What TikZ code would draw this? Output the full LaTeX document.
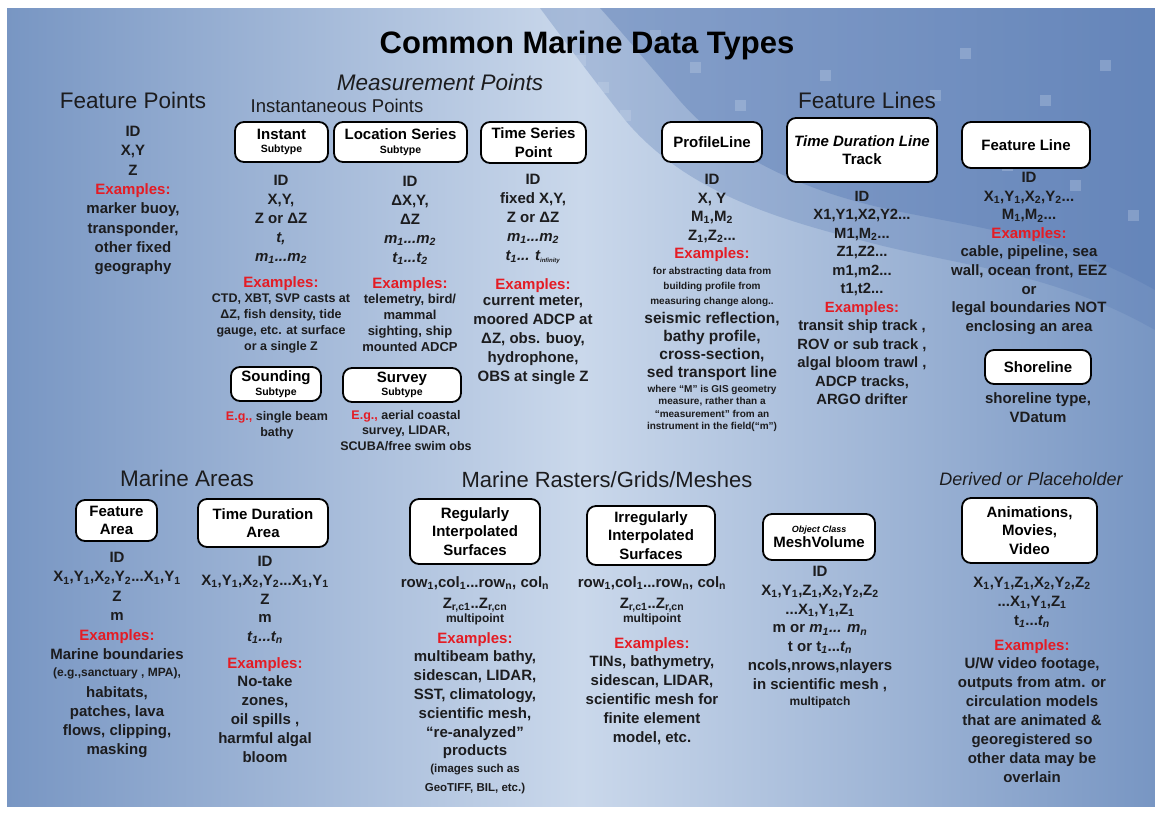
\documentclass[tikz,border=0pt]{standalone}
\usepackage{fontspec}
\setmainfont{Liberation Sans}
\usepackage{tikz}
\usetikzlibrary{positioning}
\definecolor{ink}{RGB}{28,28,30}
\definecolor{exred}{RGB}{228,28,36}
\definecolor{bgblue}{RGB}{120,150,195}
\definecolor{bglight}{RGB}{202,216,235}
\definecolor{bgdeep}{RGB}{88,122,180}
\newcommand{\sbs}[1]{\textsubscript{#1}}
\newcommand{\fsz}[2]{\fontsize{#1}{#2}\selectfont}
\newcommand{\exlbl}{\textcolor{exred}{Examples:}}
\newcommand{\eglbl}{\textcolor{exred}{E.g.,}}
\tikzset{tbox/.style = {draw, fill = white, line width = 1.8, rounded corners = 9, align = center, inner sep = 2, text = black, font = \bfseries\fsz{15}{18.5}}}
\tikzset{hdr/.style = {text = ink, font = \fsz{22.5}{24}}}
\tikzset{txt/.style = {anchor = north, inner sep = 0, align = center, text = ink, font = \bfseries\fsz{15}{19}}}
\tikzset{sml/.style = {txt, font = \bfseries\fsz{12.5}{16}}}

\begin{document}
\begin{tikzpicture}[x = 1pt, y = -1pt]
      \useasboundingbox (0, 0) rectangle (1155, 812);
      \fill[white] (0, 0) rectangle (1155, 812);
      \shade[left color = bgblue, right color = bgblue, middle color = bglight] (7, 8) rectangle (1155, 806);
      \fill[bgdeep, opacity = .3] (540, 8) -- (1155, 8) -- (1155, 330) .. controls (1050, 270) and (950, 265) .. (860, 240) .. controls (760, 215) and (680, 185) .. (625, 120) .. controls (590, 75) and (560, 35) .. (540, 8) -- cycle;
      \fill[bgdeep, opacity = .4] (600, 8) -- (1155, 8) -- (1155, 290) .. controls (1050, 230) and (950, 225) .. (870, 205) .. controls (790, 185) and (720, 150) .. (675, 95) .. controls (645, 60) and (620, 30) .. (600, 8) -- cycle;
      \foreach \px/\py in {575/55, 598/82, 650/30, 690/62, 735/100, 960/48, 1002/160, 1040/95, 1100/60, 1128/210, 900/150, 820/70, 760/40, 1070/180, 930/90, 620/110}
        \fill[bglight, opacity = .3] (\px, \py) rectangle ++(11, 11);

      \node[font = \bfseries\fsz{31}{33}] (title) at (587, 45) {Common Marine Data Types};
      \node[hdr] (fphead) at (133, 100) {Feature Points};
      \node[hdr, font = \itshape\fsz{22.5}{24}] (mphead) at (440, 82) {Measurement Points};
      \node[hdr, font = \fsz{18.5}{20}] (iphead) at (337, 106) {Instantaneous Points};
      \node[hdr] (flhead) at (867, 100) {Feature Lines};
      \node[hdr] (mahead) at (187, 478) {Marine Areas};
      \node[hdr, font = \fsz{22}{24}] (mrhead) at (607, 480) {Marine Rasters/Grids/Meshes};
      \node[hdr, font = \itshape\fsz{18}{20}] (dphead) at (1031, 479) {Derived or Placeholder};

      \node[tbox, minimum width = 93, minimum height = 40] (inst) at (281.5, 142) {Instant\\[-5pt]{\fsz{10.5}{12}Subtype}};
      \node[tbox, minimum width = 133, minimum height = 40] (locs) at (400.5, 142) {Location Series\\[-5pt]{\fsz{10.5}{12}Subtype}};
      \node[tbox, minimum width = 105, minimum height = 41] (tsp) at (533.5, 142.5) {Time Series\\Point};
      \node[tbox, minimum width = 100, minimum height = 40] (prof) at (712, 142) {ProfileLine};
      \node[tbox, minimum width = 150, minimum height = 64] (tdl) at (862, 150) {\textit{Time Duration Line}\\Track};
      \node[tbox, minimum width = 128, minimum height = 46] (fline) at (1026, 145) {Feature Line};
      \node[tbox, minimum width = 90, minimum height = 34] (sound) at (276, 384) {Sounding\\[-5pt]{\fsz{10.5}{12}Subtype}};
      \node[tbox, minimum width = 118, minimum height = 34] (survey) at (402, 385) {Survey\\[-5pt]{\fsz{10.5}{12}Subtype}};
      \node[tbox, minimum width = 106, minimum height = 34] (shore) at (1038, 367) {Shoreline};
      \node[tbox, minimum width = 81, minimum height = 41] (farea) at (116.5, 520.5) {Feature\\Area};
      \node[tbox, minimum width = 130, minimum height = 48] (tdarea) at (263, 523) {Time Duration\\Area};
      \node[tbox, minimum width = 130, minimum height = 65] (regi) at (475, 531.5) {Regularly\\Interpolated\\Surfaces};
      \node[tbox, minimum width = 128, minimum height = 59] (irri) at (651, 535.5) {Irregularly\\Interpolated\\Surfaces};
      \node[tbox, minimum width = 112, minimum height = 46] (mesh) at (819, 537) {{\fsz{9}{10}\itshape Object Class}\\[-4pt]MeshVolume};
      \node[tbox, minimum width = 135, minimum height = 65] (anim) at (1029.5, 530.5) {Animations,\\Movies,\\Video};

      \node[txt, font = \bfseries\fsz{15}{19.3}] (fptxt) at (133, 126) {ID\\X,Y\\Z\\\exlbl\\marker buoy,\\transponder,\\other fixed\\geography};

      \node[txt] (instattr) at (281, 175) {ID\\X,Y,\\Z or ΔZ\\\textit{t,}\\\textit{m\sbs{1}...m\sbs{2}}};
      \node[txt] (instex) at (281, 276) {\exlbl};
      \node[sml] (instdet) at (281, 294) {CTD, XBT, SVP casts at\\ΔZ, fish density, tide\\gauge, etc. at surface\\or a single Z};

      \node[txt] (locattr) at (410, 176) {ID\\ΔX,Y,\\ΔZ\\\textit{m\sbs{1}...m\sbs{2}}\\\textit{t\sbs{1}...t\sbs{2}}};
      \node[txt] (locex) at (410, 277) {\exlbl};
      \node[sml, font = \bfseries\fsz{13}{16}] (locdet) at (410, 294) {telemetry, bird/\\mammal\\sighting, ship\\mounted ADCP};

      \node[txt] (tsattr) at (533, 174) {ID\\fixed X,Y,\\Z or ΔZ\\\textit{m\sbs{1}...m\sbs{2}}\\\textit{t\sbs{1}... t\sbs{\fsz{6}{6}infinity}}};
      \node[txt] (tsex) at (533, 278) {\exlbl};
      \node[txt] (tsdet) at (533, 296) {current meter,\\moored ADCP at\\ΔZ, obs. buoy,\\hydrophone,\\OBS at single Z};

      \node[txt, font = \bfseries\fsz{15}{18.5}] (plattr) at (712, 174) {ID\\X, Y\\M\sbs{1},M\sbs{2}\\Z\sbs{1},Z\sbs{2}...\\\exlbl};
      \node[sml, font = \bfseries\fsz{10}{15}] (plnote) at (712, 267) {for abstracting data from\\building profile from\\measuring change along..};
      \node[txt, font = \bfseries\fsz{15.5}{18}] (pldet) at (712, 312) {seismic reflection,\\bathy profile,\\cross-section,\\sed transport line};
      \node[sml, font = \bfseries\fsz{10}{12.3}] (plfoot) at (712, 385) {where “M” is GIS geometry\\measure, rather than a\\“measurement” from an\\instrument in the field(“m”)};

      \node[txt, font = \bfseries\fsz{14.8}{18.5}] (tdltxt) at (862, 191) {ID\\X1,Y1,X2,Y2...\\M1,M\sbs{2}...\\Z1,Z2...\\m1,m2...\\t1,t2...\\\exlbl\\transit ship track ,\\ROV or sub track ,\\algal bloom trawl ,\\ADCP tracks,\\ARGO drifter};

      \node[txt, font = \bfseries\fsz{15}{18.6}] (fltxt) at (1029, 172) {ID\\X\sbs{1},Y\sbs{1},X\sbs{2},Y\sbs{2}...\\M\sbs{1},M\sbs{2}...\\\exlbl\\cable, pipeline, sea\\wall, ocean front, EEZ\\or\\legal boundaries NOT\\enclosing an area};
      \node[txt] (sltxt) at (1038, 392) {shoreline type,\\VDatum};

      \node[sml] (sndtxt) at (277, 411) {\eglbl{} single beam\\bathy};
      \node[sml, font = \bfseries\fsz{12.5}{15.5}] (svtxt) at (406, 410) {\eglbl{} aerial coastal\\survey, LIDAR,\\SCUBA/free swim obs};

      \node[txt, font = \bfseries\fsz{15}{19.4}] (faattr) at (117, 552) {ID\\X\sbs{1},Y\sbs{1},X\sbs{2},Y\sbs{2}...X\sbs{1},Y\sbs{1}\\Z\\m\\\exlbl\\Marine boundaries};
      \node[sml, font = \bfseries\fsz{12}{14}] (faeg) at (117, 668) {(e.g.,sanctuary , MPA),};
      \node[txt] (fadet) at (117, 686) {habitats,\\patches, lava\\flows, clipping,\\masking};

      \node[txt, font = \bfseries\fsz{15}{18.8}] (tdaattr) at (265, 556) {ID\\X\sbs{1},Y\sbs{1},X\sbs{2},Y\sbs{2}...X\sbs{1},Y\sbs{1}\\Z\\m\\\textit{t\sbs{1}...t\sbs{n}}};
      \node[txt, font = \bfseries\fsz{15}{18.8}] (tdadet) at (265, 657) {\exlbl\\No-take\\zones,\\oil spills ,\\harmful algal\\bloom};

      \node[txt, font = \bfseries\fsz{15}{21}] (riattr) at (475, 576) {row\sbs{1},col\sbs{1}...row\sbs{n}, col\sbs{n}\\Z\sbs{r,c1}..Z\sbs{r,cn}};
      \node[sml, font = \bfseries\fsz{12}{14}] (rimp) at (475, 614) {multipoint};
      \node[txt, font = \bfseries\fsz{15}{18.8}] (ridet) at (475, 632) {\exlbl\\multibeam bathy,\\sidescan, LIDAR,\\SST, climatology,\\scientific mesh,\\“re-analyzed”\\products};
      \node[sml, font = \bfseries\fsz{11.5}{19}] (riimg) at (475, 764) {(images such as\\GeoTIFF, BIL, etc.)};

      \node[txt, font = \bfseries\fsz{15}{21}] (iiattr) at (652, 576) {row\sbs{1},col\sbs{1}...row\sbs{n}, col\sbs{n}\\Z\sbs{r,c1}..Z\sbs{r,cn}};
      \node[sml, font = \bfseries\fsz{12}{14}] (iimp) at (652, 614) {multipoint};
      \node[txt, font = \bfseries\fsz{15}{18.8}] (iidet) at (652, 637) {\exlbl\\TINs, bathymetry,\\sidescan, LIDAR,\\scientific mesh for\\finite element\\model, etc.};

      \node[txt, font = \bfseries\fsz{15}{18.8}] (mvattr) at (820, 566) {ID\\X\sbs{1},Y\sbs{1},Z\sbs{1},X\sbs{2},Y\sbs{2},Z\sbs{2}\\...X\sbs{1},Y\sbs{1},Z\sbs{1}\\m or \textit{m\sbs{1}... m\sbs{n}}\\t or t\sbs{\textit{1}}...\textit{t\sbs{n}}\\ncols,nrows,nlayers\\in scientific mesh ,};
      \node[sml, font = \bfseries\fsz{12}{14}] (mvmp) at (820, 697) {multipatch};

      \node[txt, font = \bfseries\fsz{15}{18.8}] (anattr) at (1032, 577) {X\sbs{1},Y\sbs{1},Z\sbs{1},X\sbs{2},Y\sbs{2},Z\sbs{2}\\...X\sbs{1},Y\sbs{1},Z\sbs{1}\\t\sbs{\textit{1}}...\textit{t\sbs{n}}};
      \node[txt, font = \bfseries\fsz{15}{18.9}] (andet) at (1032, 639) {\exlbl\\U/W video footage,\\outputs from atm. or\\circulation models\\that are animated \&\\georegistered so\\other data may be\\overlain};
    \end{tikzpicture}
\end{document}
